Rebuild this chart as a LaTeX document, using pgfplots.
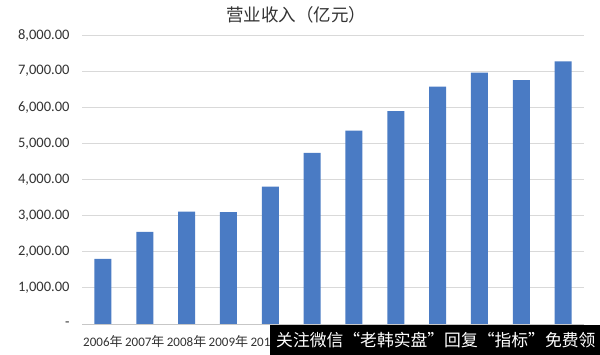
\documentclass[border=0pt]{standalone}
\usepackage{pgfplots}
\pgfplotsset{compat=1.18}
\usepackage{fontspec}
\setmainfont{Carlito}
\newfontfamily\cjk{Noto Sans CJK SC}
\definecolor{barblue}{HTML}{4A7BC4}
\definecolor{gridgray}{HTML}{D9D9D9}
\definecolor{txt}{HTML}{333333}
\begin{document}
\begin{tikzpicture}
\useasboundingbox (0,0) rectangle (600bp,355bp);
\fill[white] (0,0) rectangle (600bp,355bp);
\begin{axis}[
  at={(82bp,31bp)}, anchor=south west,
  scale only axis, width=502bp, height=289bp,
  xmin=-0.5, xmax=11.5, ymin=0, ymax=8000,
  ybar, bar width=17bp,
  axis x line*=bottom, axis y line*=left,
  y axis line style={draw=none},
  x axis line style={draw=gridgray!80!gray, line width=0.8bp, -},
  xtick style={draw=none}, ytick style={draw=none},
  ymajorgrids, grid style={gridgray, line width=0.8bp},
  ytick={0,1000,2000,3000,4000,5000,6000,7000,8000},
  yticklabels={-, {1,000.00}, {2,000.00}, {3,000.00}, {4,000.00}, {5,000.00}, {6,000.00}, {7,000.00}, {8,000.00}},
  xtick={0,1,2,3,4,5,6,7,8,9,10,11},
  xticklabels={2006{\cjk 年},2007{\cjk 年},2008{\cjk 年},2009{\cjk 年},2010{\cjk 年},2011{\cjk 年},2012{\cjk 年},2013{\cjk 年},2014{\cjk 年},2015{\cjk 年},2016{\cjk 年},2017{\cjk 年}},
  yticklabel style={font=\fontsize{14.5bp}{16bp}\selectfont, text=txt, xshift=-9bp},
  xticklabel style={font=\fontsize{13bp}{15bp}\selectfont, text=txt, yshift=-4bp},
]
\addplot[fill=barblue, draw=none] coordinates {
(0,1800) (1,2550) (2,3110) (3,3100) (4,3800) (5,4740)
(6,5350) (7,5890) (8,6570) (9,6960) (10,6750) (11,7270)};
\end{axis}
\node[font=\cjk\fontsize{17.5bp}{19bp}\selectfont, text=txt] at (296bp,340bp) {营业收入（亿元）};
\fill[black] (270bp,0) rectangle (600bp,30bp);
\node[anchor=west, text=white, font=\cjk\fontsize{16.8bp}{17bp}\selectfont, inner sep=0pt] at (276bp,15bp) {关注微信“老韩实盘”回复“指标”免费领};
\end{tikzpicture}
\end{document}
